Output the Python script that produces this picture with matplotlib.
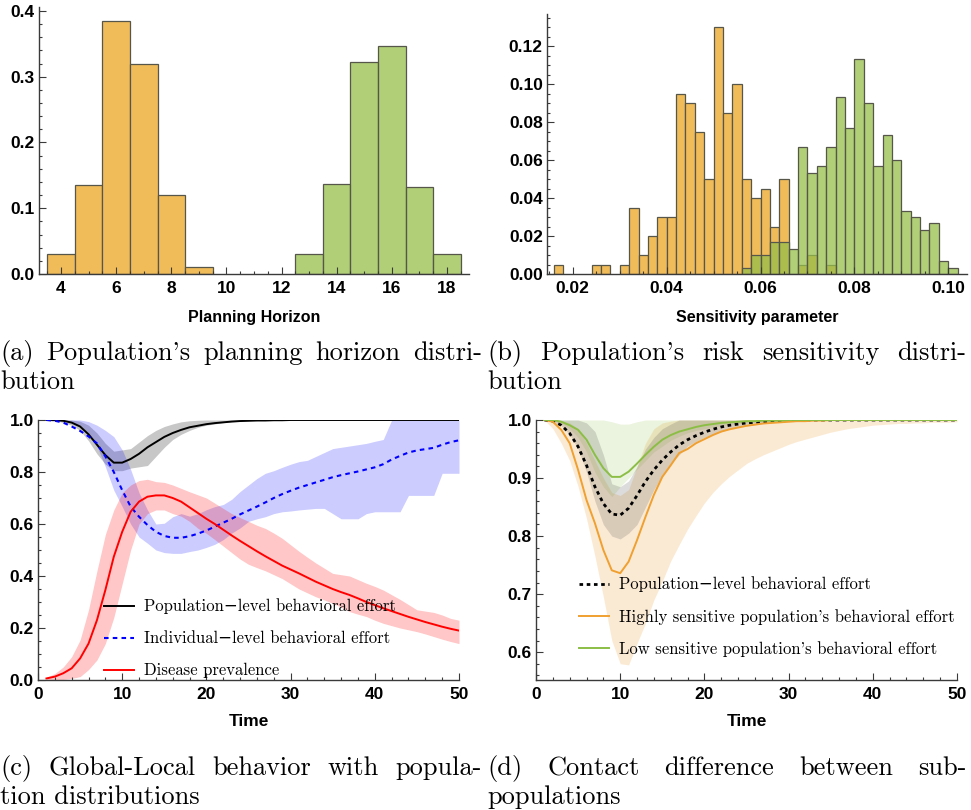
import os
import matplotlib
matplotlib.use('Agg')
import matplotlib.pyplot as plt
import numpy as np
from matplotlib import font_manager as fm
from matplotlib.ticker import MultipleLocator, FormatStrFormatter


# pick a sans family that really has a bold face installed
def bold_family():
    for fam in ['Liberation Sans', 'Roboto', 'Open Sans', 'Inter', 'Lato', 'DejaVu Sans']:
        try:
            path = fm.findfont(fm.FontProperties(family=fam, weight='bold'),
                               fallback_to_default=False)
        except Exception:
            continue
        if 'bold' in os.path.basename(path).lower():
            return fam
    return 'DejaVu Sans'


SANS = [bold_family(), 'DejaVu Sans']
plt.rcParams['font.family'] = SANS
plt.rcParams['font.weight'] = 'bold'
SERIF = ['cmr10', 'DejaVu Serif']

# (a) planning horizon histogram
horizon_low = [4, 5, 6, 7, 8, 9]
horizon_low_p = [0.03, 0.135, 0.385, 0.32, 0.12, 0.01]
horizon_high = [13, 14, 15, 16, 17, 18]
horizon_high_p = [0.03, 0.137, 0.323, 0.347, 0.133, 0.03]

# (b) risk sensitivity histogram (bin left edges, bin width 0.002)
sens_hi_bins = [0.016, 0.024, 0.026, 0.030, 0.032, 0.034, 0.036, 0.038, 0.040,
                0.042, 0.044, 0.046, 0.048, 0.050, 0.052, 0.054, 0.056, 0.058,
                0.060, 0.062, 0.064, 0.068, 0.070, 0.074]
sens_hi_p = [0.005, 0.005, 0.005, 0.005, 0.035, 0.01, 0.02, 0.03, 0.03,
             0.095, 0.09, 0.075, 0.05, 0.13, 0.085, 0.10, 0.05, 0.04,
             0.045, 0.025, 0.05, 0.005, 0.01, 0.005]
sens_lo_bins = [0.056, 0.058, 0.060, 0.062, 0.064, 0.066, 0.068, 0.070, 0.072,
                0.074, 0.076, 0.078, 0.080, 0.082, 0.084, 0.086, 0.088, 0.090,
                0.092, 0.094, 0.096, 0.098, 0.100]
sens_lo_p = [0.0033, 0.01, 0.01, 0.0167, 0.0167, 0.0133, 0.0667, 0.0533, 0.0567,
             0.0667, 0.0933, 0.0767, 0.1133, 0.09, 0.0567, 0.0733, 0.06, 0.0333,
             0.03, 0.0233, 0.0267, 0.0067, 0.0033]
bin_w = 0.002

# (c) global-local behaviour, t = 1..50
time = list(range(1, 51))
pop_effort = [1.0, 0.999, 0.997, 0.99, 0.975, 0.945, 0.905, 0.865, 0.836, 0.836,
              0.85, 0.87, 0.895, 0.915, 0.935, 0.95, 0.962, 0.972, 0.978, 0.984,
              0.988, 0.991, 0.994, 0.996, 0.997, 0.998, 0.998, 0.999, 0.999, 1.0,
              1.0, 1.0, 1.0, 1.0, 1.0, 1.0, 1.0, 1.0, 1.0, 1.0,
              1.0, 1.0, 1.0, 1.0, 1.0, 1.0, 1.0, 1.0, 1.0, 1.0]
pop_effort_lo = [1.0, 0.998, 0.99, 0.98, 0.96, 0.92, 0.87, 0.83, 0.805, 0.805,
                 0.815, 0.82, 0.825, 0.86, 0.895, 0.925, 0.945, 0.96, 0.972, 0.98,
                 0.985, 0.99, 0.993, 0.995, 0.997, 0.998, 0.999, 0.999, 1.0, 1.0,
                 1.0, 1.0, 1.0, 1.0, 1.0, 1.0, 1.0, 1.0, 1.0, 1.0,
                 1.0, 1.0, 1.0, 1.0, 1.0, 1.0, 1.0, 1.0, 1.0, 1.0]
pop_effort_hi = [1.0, 1.0, 1.0, 1.0, 0.995, 0.98, 0.95, 0.91, 0.88, 0.885,
                 0.89, 0.915, 0.94, 0.96, 0.975, 0.985, 0.993, 0.997, 0.999, 1.0,
                 1.0, 1.0, 1.0, 1.0, 1.0, 1.0, 1.0, 1.0, 1.0, 1.0,
                 1.0, 1.0, 1.0, 1.0, 1.0, 1.0, 1.0, 1.0, 1.0, 1.0,
                 1.0, 1.0, 1.0, 1.0, 1.0, 1.0, 1.0, 1.0, 1.0, 1.0]
ind_effort = [1.0, 0.997, 0.99, 0.975, 0.958, 0.937, 0.91, 0.86, 0.80, 0.73,
              0.667, 0.628, 0.596, 0.57, 0.554, 0.547, 0.547, 0.553, 0.563, 0.575,
              0.59, 0.605, 0.62, 0.637, 0.652, 0.667, 0.683, 0.70, 0.715, 0.728,
              0.74, 0.75, 0.76, 0.77, 0.78, 0.788, 0.795, 0.802, 0.81, 0.818,
              0.83, 0.848, 0.862, 0.875, 0.883, 0.888, 0.893, 0.905, 0.915, 0.922]
ind_effort_lo = [1.0, 1.0, 0.998, 0.99, 0.98, 0.95, 0.90, 0.82, 0.73, 0.667,
                 0.60, 0.55, 0.526, 0.50, 0.49, 0.487, 0.487, 0.494, 0.50, 0.51,
                 0.522, 0.54, 0.565, 0.585, 0.61, 0.62, 0.628, 0.64, 0.647, 0.65,
                 0.654, 0.657, 0.66, 0.66, 0.64, 0.62, 0.62, 0.62, 0.64, 0.647,
                 0.647, 0.647, 0.647, 0.71, 0.71, 0.71, 0.71, 0.795, 0.795, 0.795]
ind_effort_hi = [1.0, 1.0, 1.0, 1.0, 1.0, 0.994, 0.98, 0.96, 0.936, 0.885,
                 0.81, 0.72, 0.654, 0.60, 0.603, 0.628, 0.64, 0.63, 0.64, 0.655,
                 0.667, 0.675, 0.695, 0.725, 0.75, 0.775, 0.795, 0.805, 0.818, 0.83,
                 0.84, 0.845, 0.86, 0.875, 0.89, 0.895, 0.90, 0.905, 0.91, 0.918,
                 0.925, 1.0, 1.0, 1.0, 1.0, 1.0, 1.0, 1.0, 1.0, 1.0]
prevalence = [0.006, 0.013, 0.026, 0.045, 0.083, 0.14, 0.23, 0.346, 0.474, 0.57,
              0.647, 0.686, 0.705, 0.71, 0.71, 0.70, 0.686, 0.664, 0.642, 0.62,
              0.60, 0.578, 0.556, 0.535, 0.515, 0.495, 0.476, 0.458, 0.44, 0.425,
              0.41, 0.394, 0.378, 0.364, 0.35, 0.338, 0.327, 0.314, 0.30, 0.288,
              0.276, 0.265, 0.254, 0.243, 0.233, 0.223, 0.214, 0.205, 0.197, 0.19]
prevalence_lo = [0.0, 0.0, 0.002, 0.006, 0.013, 0.04, 0.077, 0.14, 0.24, 0.37,
                 0.50, 0.60, 0.64, 0.654, 0.654, 0.64, 0.63, 0.61, 0.583, 0.564,
                 0.54, 0.515, 0.49, 0.465, 0.445, 0.432, 0.42, 0.405, 0.39, 0.37,
                 0.35, 0.335, 0.32, 0.308, 0.295, 0.28, 0.263, 0.253, 0.244, 0.23,
                 0.218, 0.209, 0.20, 0.193, 0.186, 0.177, 0.167, 0.157, 0.148, 0.14]
prevalence_hi = [0.01, 0.025, 0.05, 0.09, 0.154, 0.27, 0.42, 0.56, 0.654, 0.72,
                 0.75, 0.767, 0.772, 0.763, 0.76, 0.75, 0.737, 0.724, 0.712, 0.70,
                 0.68, 0.66, 0.64, 0.625, 0.61, 0.595, 0.583, 0.565, 0.545, 0.52,
                 0.495, 0.472, 0.45, 0.43, 0.41, 0.405, 0.40, 0.386, 0.372, 0.36,
                 0.346, 0.328, 0.31, 0.29, 0.27, 0.265, 0.26, 0.25, 0.237, 0.23]

# (d) sub-populations, t = 1..50
sub_pop = [1.0, 0.998, 0.991, 0.977, 0.954, 0.922, 0.885, 0.856, 0.838, 0.836,
           0.848, 0.87, 0.894, 0.914, 0.931, 0.945, 0.957, 0.966, 0.973, 0.979,
           0.984, 0.988, 0.991, 0.993, 0.995, 0.996, 0.997, 0.998, 0.999, 0.999,
           1.0, 1.0, 1.0, 1.0, 1.0, 1.0, 1.0, 1.0, 1.0, 1.0,
           1.0, 1.0, 1.0, 1.0, 1.0, 1.0, 1.0, 1.0, 1.0, 1.0]
sub_pop_lo = [1.0, 0.997, 0.99, 0.975, 0.95, 0.91, 0.86, 0.82, 0.80, 0.795,
              0.805, 0.82, 0.85, 0.88, 0.905, 0.925, 0.94, 0.955, 0.963, 0.97,
              0.975, 0.98, 0.985, 0.988, 0.99, 0.992, 0.994, 0.996, 0.997, 0.998,
              0.999, 1.0, 1.0, 1.0, 1.0, 1.0, 1.0, 1.0, 1.0, 1.0,
              1.0, 1.0, 1.0, 1.0, 1.0, 1.0, 1.0, 1.0, 1.0, 1.0]
sub_pop_hi = [1.0, 1.0, 1.0, 1.0, 1.0, 0.995, 0.98, 0.94, 0.89, 0.885,
              0.895, 0.92, 0.95, 0.97, 0.985, 0.993, 1.0, 1.0, 1.0, 1.0,
              1.0, 1.0, 1.0, 1.0, 1.0, 1.0, 1.0, 1.0, 1.0, 1.0,
              1.0, 1.0, 1.0, 1.0, 1.0, 1.0, 1.0, 1.0, 1.0, 1.0,
              1.0, 1.0, 1.0, 1.0, 1.0, 1.0, 1.0, 1.0, 1.0, 1.0]
sub_high = [1.0, 0.997, 0.983, 0.96, 0.914, 0.862, 0.822, 0.776, 0.741, 0.736,
            0.756, 0.793, 0.833, 0.871, 0.902, 0.922, 0.943, 0.95, 0.96, 0.967,
            0.974, 0.98, 0.984, 0.987, 0.99, 0.992, 0.994, 0.995, 0.996, 0.997,
            0.998, 0.998, 0.999, 0.999, 1.0, 1.0, 1.0, 1.0, 1.0, 1.0,
            1.0, 1.0, 1.0, 1.0, 1.0, 1.0, 1.0, 1.0, 1.0, 1.0]
sub_high_lo = [1.0, 0.985, 0.96, 0.93, 0.885, 0.83, 0.765, 0.695, 0.62, 0.58,
               0.578, 0.615, 0.65, 0.69, 0.722, 0.757, 0.785, 0.812, 0.835, 0.857,
               0.875, 0.89, 0.903, 0.914, 0.925, 0.933, 0.94, 0.946, 0.952, 0.958,
               0.963, 0.967, 0.971, 0.975, 0.979, 0.982, 0.985, 0.987, 0.989, 0.991,
               0.992, 0.993, 0.994, 0.994, 0.995, 0.995, 0.996, 0.996, 0.996, 0.997]
sub_high_hi = [1.0, 1.0, 0.999, 0.995, 0.985, 0.96, 0.93, 0.90, 0.875, 0.87,
               0.88, 0.92, 0.96, 0.985, 0.995, 0.998, 1.0, 1.0, 1.0, 1.0,
               1.0, 1.0, 1.0, 1.0, 1.0, 1.0, 1.0, 1.0, 1.0, 1.0,
               1.0, 1.0, 1.0, 1.0, 1.0, 1.0, 1.0, 1.0, 1.0, 1.0,
               1.0, 1.0, 1.0, 1.0, 1.0, 1.0, 1.0, 1.0, 1.0, 1.0]
sub_low = [1.0, 1.0, 0.997, 0.991, 0.983, 0.966, 0.94, 0.917, 0.902, 0.902,
           0.911, 0.925, 0.94, 0.954, 0.966, 0.974, 0.98, 0.984, 0.988, 0.991,
           0.993, 0.995, 0.996, 0.997, 0.998, 0.998, 0.999, 0.999, 0.999, 1.0,
           1.0, 1.0, 1.0, 1.0, 1.0, 1.0, 1.0, 1.0, 1.0, 1.0,
           1.0, 1.0, 1.0, 1.0, 1.0, 1.0, 1.0, 1.0, 1.0, 1.0]
sub_low_lo = [1.0, 0.999, 0.995, 0.985, 0.97, 0.945, 0.91, 0.885, 0.868, 0.885,
              0.90, 0.915, 0.93, 0.945, 0.955, 0.965, 0.972, 0.978, 0.982, 0.985,
              0.988, 0.99, 0.992, 0.994, 0.995, 0.996, 0.997, 0.998, 0.999, 1.0,
              1.0, 1.0, 1.0, 1.0, 1.0, 1.0, 1.0, 1.0, 1.0, 1.0,
              1.0, 1.0, 1.0, 1.0, 1.0, 1.0, 1.0, 1.0, 1.0, 1.0]
sub_low_hi = [1.0, 1.0, 1.0, 1.0, 1.0, 1.0, 1.0, 1.0, 0.997, 0.993,
              0.993, 0.997, 1.0, 1.0, 1.0, 1.0, 1.0, 1.0, 1.0, 1.0,
              1.0, 1.0, 1.0, 1.0, 1.0, 1.0, 1.0, 1.0, 1.0, 1.0,
              1.0, 1.0, 1.0, 1.0, 1.0, 1.0, 1.0, 1.0, 1.0, 1.0,
              1.0, 1.0, 1.0, 1.0, 1.0, 1.0, 1.0, 1.0, 1.0, 1.0]

ORANGE_BAR = '#F0BB59'
GREEN_BAR = (0.59, 0.75, 0.29, 0.75)
EDGE = '#56564a'
AXC = '#3a3a3a'

W, H = 971, 810
fig = plt.figure(figsize=(W / 100, H / 100), dpi=100)


def px_axes(left, top, right, bottom):
    return fig.add_axes([left / W, 1 - bottom / H, (right - left) / W, (bottom - top) / H])


def style(ax, xmaj, xmin, ymaj, ymin, xfmt, yfmt):
    for s in ['top', 'right']:
        ax.spines[s].set_visible(False)
    for s in ['left', 'bottom']:
        ax.spines[s].set_color(AXC)
        ax.spines[s].set_linewidth(1.0)
    ax.xaxis.set_major_locator(MultipleLocator(xmaj))
    ax.xaxis.set_minor_locator(MultipleLocator(xmin))
    ax.yaxis.set_major_locator(MultipleLocator(ymaj))
    ax.yaxis.set_minor_locator(MultipleLocator(ymin))
    ax.xaxis.set_major_formatter(FormatStrFormatter(xfmt))
    ax.yaxis.set_major_formatter(FormatStrFormatter(yfmt))
    ax.tick_params(which='both', direction='in', color=AXC, width=0.8, labelsize=12.5)
    ax.tick_params(which='major', length=5, pad=3)
    ax.tick_params(which='minor', length=2.5)
    ax.tick_params(axis='x', pad=5)
    for lab in ax.get_xticklabels() + ax.get_yticklabels():
        lab.set_fontweight('bold')


# (a)
ax = px_axes(39, 7, 469, 274)
ax.bar(horizon_low, horizon_low_p, width=1, color=ORANGE_BAR, edgecolor=EDGE, linewidth=0.9)
ax.bar(horizon_high, horizon_high_p, width=1, color=GREEN_BAR, edgecolor=EDGE, linewidth=0.9)
ax.set_xlim(3.2, 18.8)
ax.set_ylim(0, 0.406)
style(ax, 2, 0.5, 0.1, 0.02, '%d', '%.1f')
ax.set_xlabel('Planning Horizon', fontsize=11.5, fontweight='bold', labelpad=10)

# (b)
ax = px_axes(547, 14, 967, 274)
ax.bar(sens_hi_bins, sens_hi_p, width=bin_w, align='edge', color=ORANGE_BAR,
       edgecolor=EDGE, linewidth=0.9)
ax.bar(sens_lo_bins, sens_lo_p, width=bin_w, align='edge', color=GREEN_BAR,
       edgecolor=EDGE, linewidth=0.9)
ax.set_xlim(0.0145, 0.104)
ax.set_ylim(0, 0.137)
style(ax, 0.02, 0.005, 0.02, 0.005, '%.2f', '%.2f')
ax.set_xlabel('Sensitivity parameter', fontsize=11.5, fontweight='bold', labelpad=10)

legend_kw = dict(loc='upper left', frameon=False,
                 prop={'family': SERIF, 'size': 12, 'weight': 'normal'},
                 handlelength=1.8, handletextpad=0.6, labelspacing=1.0, borderpad=0)

# (c)
ax = px_axes(38, 420, 459, 680)
ax.fill_between(time, pop_effort_lo, pop_effort_hi, color='black', alpha=0.22, lw=0)
ax.fill_between(time, ind_effort_lo, ind_effort_hi, color='blue', alpha=0.2, lw=0)
ax.fill_between(time, prevalence_lo, prevalence_hi, color='red', alpha=0.22, lw=0)
ax.plot(time, pop_effort, color='black', lw=1.4, label='Population\u2212level behavioral effort')
ax.plot(time, ind_effort, color='blue', lw=1.5, ls=(0, (2.2, 2)),
        label='Individual\u2212level behavioral effort')
ax.plot(time, prevalence, color='red', lw=1.4, label='Disease prevalence')
ax.set_xlim(0, 50)
ax.set_ylim(0, 1.0)
style(ax, 10, 2, 0.2, 0.05, '%d', '%.1f')
ax.set_xlabel('Time', fontsize=12.5, fontweight='bold', labelpad=9)
ax.legend(bbox_to_anchor=(0.138, 0.345), **legend_kw)

# (d)
ax = px_axes(536, 420, 957, 680)
ax.fill_between(time, sub_high_lo, sub_high_hi, color='#EE9A26', alpha=0.2, lw=0)
ax.fill_between(time, sub_low_lo, sub_low_hi, color='#8CBF40', alpha=0.17, lw=0)
ax.fill_between(time, sub_pop_lo, sub_pop_hi, color='#505050', alpha=0.2, lw=0)
ax.plot(time, sub_pop, color='black', lw=2, ls=(0, (1.3, 1.3)),
        label='Population\u2212level behavioral effort')
ax.plot(time, sub_high, color='#F0A030', lw=1.4,
        label="Highly sensitive population's behavioral effort")
ax.plot(time, sub_low, color='#8CBE46', lw=1.4,
        label="Low sensitive population's behavioral effort")
ax.set_xlim(0, 50)
ax.set_ylim(0.552, 1.0)
style(ax, 10, 2, 0.1, 0.02, '%d', '%.1f')
ax.set_xlabel('Time', fontsize=12.5, fontweight='bold', labelpad=9)
ax.legend(bbox_to_anchor=(0.083, 0.43), **legend_kw)

# captions, first line justified like the LaTeX source
captions = [
    (0, 482, 360, 389, "(a) Population's planning horizon distri-", 'bution'),
    (487, 966, 360, 389, "(b) Population's risk sensitivity distri-", 'bution'),
    (0, 482, 775, 804, '(c) Global-Local behavior with popula-', 'tion distributions'),
    (487, 966, 775, 804, '(d) Contact difference between sub-', 'populations'),
]
cap_kw = dict(family=SERIF, fontsize=19, weight='normal', va='baseline', ha='left')
fig.canvas.draw()
renderer = fig.canvas.get_renderer()
for x0, x1, y1, y2, first, second in captions:
    words = first.split(' ')
    texts = [fig.text(0, 1 - y1 / H, w, **cap_kw) for w in words]
    widths = [t.get_window_extent(renderer).width for t in texts]
    gap = max((x1 - x0 - sum(widths)) / (len(words) - 1), 4)
    x = x0
    for t, w in zip(texts, widths):
        t.set_x(x / W)
        x += w + gap
    fig.text(x0 / W, 1 - y2 / H, second, **cap_kw)

fig.savefig('out.png', dpi=100)
